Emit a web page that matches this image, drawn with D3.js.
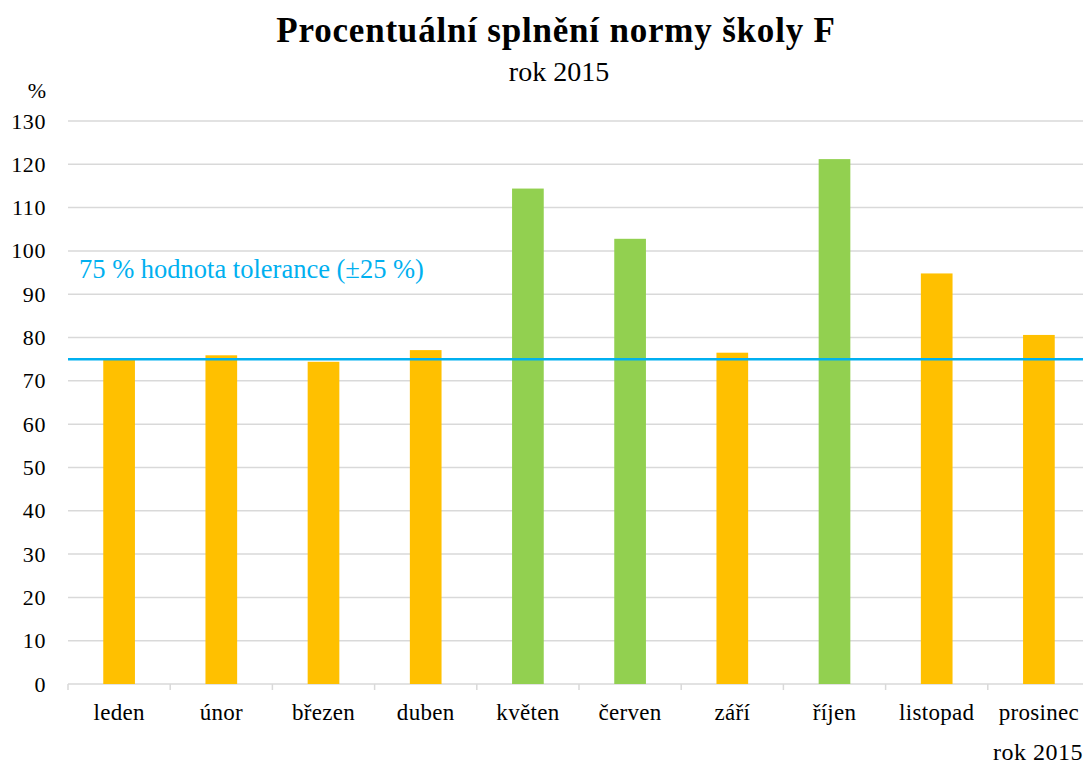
<!DOCTYPE html>
<html>
<head>
<meta charset="utf-8">
<script src="https://cdn.jsdelivr.net/npm/d3@7"></script>
<style>
  body { margin: 0; background: #fff; }
  svg text { font-family: "Liberation Serif", "Times New Roman", serif !important; }
</style>
</head>
<body>
<div id="chart"></div>
<script>
// data
var months = ["leden", "únor", "březen", "duben", "květen", "červen", "září", "říjen", "listopad", "prosinec"];
var values = [75.0, 75.9, 74.4, 77.1, 114.4, 102.8, 76.5, 121.2, 94.8, 80.6];
var aboveNorm = [false, false, false, false, true, true, false, true, false, false];
var yTicks = [0, 10, 20, 30, 40, 50, 60, 70, 80, 90, 100, 110, 120, 130];
var tolerance = 75;

var W = 1083, H = 765;
var margin = {top: 121, right: -7, bottom: 81, left: 68},
    width = W - margin.left - margin.right,
    height = H - margin.top - margin.bottom;

var svg = d3.select("#chart")
  .append("svg")
    .attr("width", W)
    .attr("height", H);

var g = svg.append("g")
    .attr("transform", "translate(" + margin.left + "," + margin.top + ")");

var x = d3.scaleBand()
  .domain(months)
  .range([0, width])
  .paddingInner(0.69)
  .paddingOuter(0.345);

var y = d3.scaleLinear()
  .domain([0, 130])
  .range([height, 0]);

// gridlines
g.append("g")
  .selectAll("line")
  .data(yTicks.filter(function(d) { return d > 0; }))
  .enter()
  .append("line")
    .attr("x1", 0)
    .attr("x2", W - margin.left)
    .attr("y1", function(d) { return y(d); })
    .attr("y2", function(d) { return y(d); })
    .attr("stroke", "#d9d9d9")
    .attr("stroke-width", 1.5);

// y axis labels
var yAxis = g.append("g")
  .call(d3.axisLeft(y).tickValues(yTicks).tickSize(0).tickPadding(22));
yAxis.select(".domain").remove();
yAxis.selectAll("text")
  .attr("font-size", "22px")
  .attr("letter-spacing", "0.6px")
  .attr("fill", "#000");

// x axis
var xAxis = g.append("g")
  .attr("transform", "translate(0," + height + ")")
  .call(d3.axisBottom(x).tickSize(0).tickPadding(20));
xAxis.select(".domain")
  .attr("stroke", "#d9d9d9")
  .attr("stroke-width", 1.5)
  .attr("d", "M0,0H" + (W - margin.left));
xAxis.selectAll("text")
  .attr("font-size", "23px")
  .attr("letter-spacing", "0.3px")
  .attr("fill", "#000");

// band boundary ticks
var step = x.step();
g.append("g")
  .selectAll("line")
  .data(d3.range(months.length + 1))
  .enter()
  .append("line")
    .attr("x1", function(i) { return i * step; })
    .attr("x2", function(i) { return i * step; })
    .attr("y1", height)
    .attr("y2", height + 6)
    .attr("stroke", "#d9d9d9")
    .attr("stroke-width", 1.5);

// bars
g.append("g")
  .selectAll("rect")
  .data(months)
  .enter()
  .append("rect")
    .attr("x", function(d) { return x(d); })
    .attr("width", x.bandwidth())
    .attr("y", function(d, i) { return y(values[i]); })
    .attr("height", function(d, i) { return height - y(values[i]); })
    .attr("fill", function(d, i) { return aboveNorm[i] ? "#92d050" : "#ffc000"; });

// tolerance line
g.append("line")
  .attr("x1", 0)
  .attr("x2", W - margin.left)
  .attr("y1", y(tolerance))
  .attr("y2", y(tolerance))
  .attr("stroke", "#00b0f0")
  .attr("stroke-width", 2.5);

g.append("text")
  .attr("x", 11)
  .attr("y", y(tolerance) - 81)
  .attr("font-size", "26.5px")
  .attr("fill", "#00b0f0")
  .text("75 % hodnota tolerance (±25 %)");

// titles
svg.append("text")
  .attr("x", 556)
  .attr("y", 42)
  .attr("text-anchor", "middle")
  .attr("font-size", "35px")
  .attr("letter-spacing", "0.8px")
  .attr("font-weight", "bold")
  .text("Procentuální splnění normy školy F");

svg.append("text")
  .attr("x", 559)
  .attr("y", 81)
  .attr("text-anchor", "middle")
  .attr("font-size", "28px")
  .text("rok 2015");

svg.append("text")
  .attr("x", 46)
  .attr("y", 98)
  .attr("text-anchor", "end")
  .attr("font-size", "22px")
  .text("%");

svg.append("text")
  .attr("x", 1083)
  .attr("y", 760)
  .attr("text-anchor", "end")
  .attr("font-size", "24px")
  .attr("letter-spacing", "0.5px")
  .text("rok 2015");
</script>
</body>
</html>
